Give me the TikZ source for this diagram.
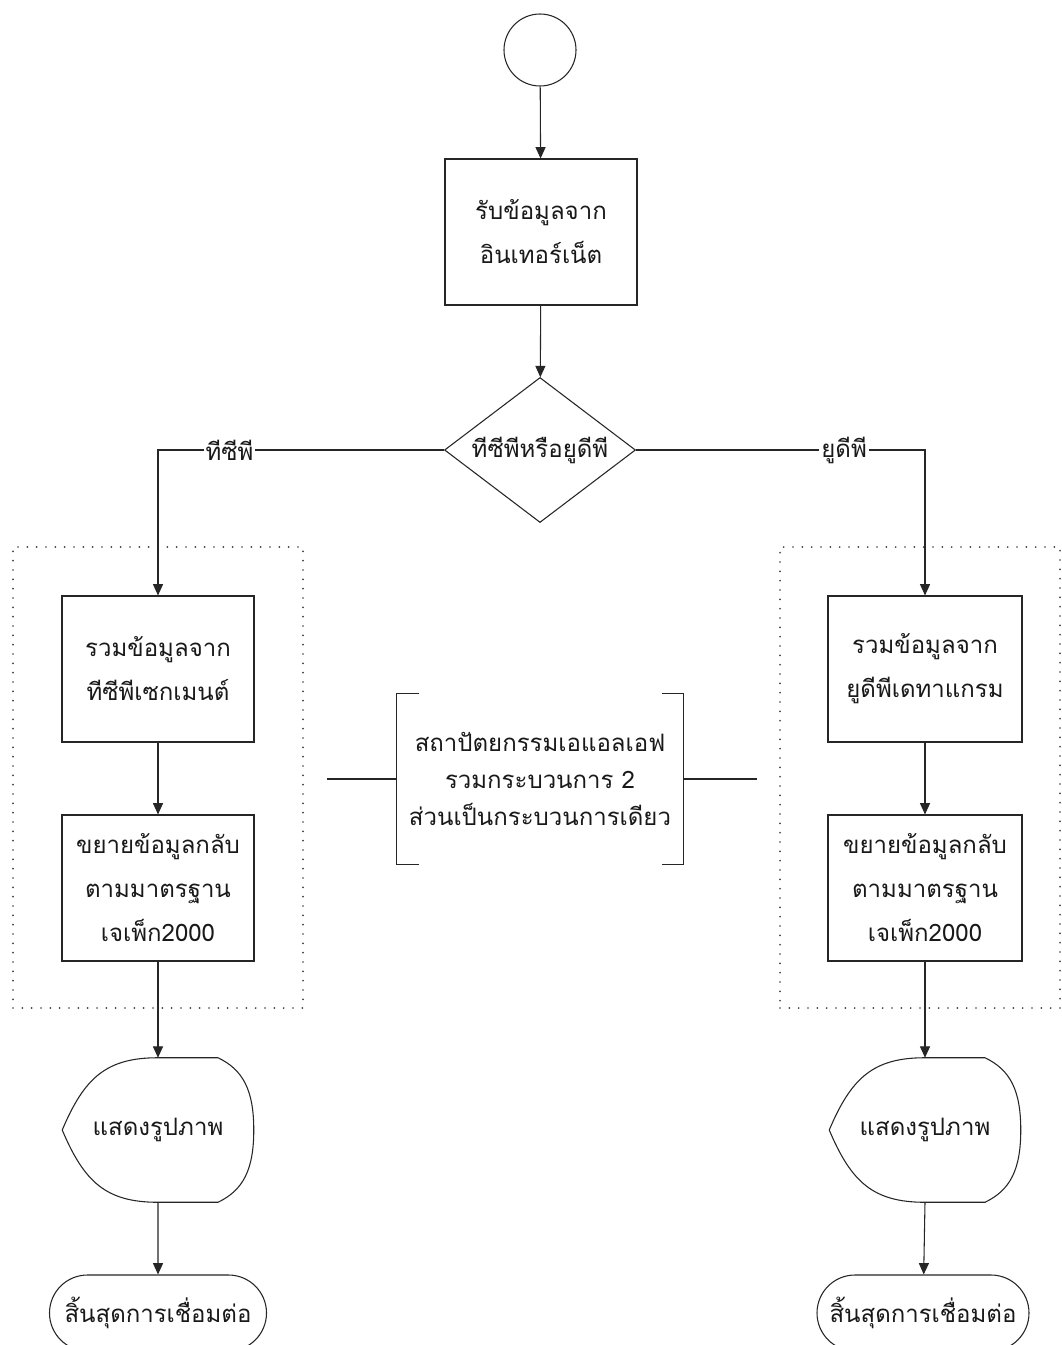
\documentclass[tikz,border=0pt]{standalone}
\usepackage{fontspec}
\newfontfamily\thai[Script=Thai]{Loma}
\usetikzlibrary{shapes.geometric,shapes.misc,arrows.meta}
\tikzset{
  ln/.style={line width=0.8pt, draw=black!85},
  arr/.style={ln, -{Triangle[length=8.5pt,width=7.5pt]}},
  txt/.style={font=\thai\fontsize{18}{33}\selectfont, align=center, text=black!90},
  proc/.style={ln, draw, rectangle, txt, inner sep=0pt, minimum width=144pt, minimum height=109.5pt},
  dec/.style={ln, draw, diamond, aspect=1.32, txt, inner sep=0pt, minimum width=143.25pt, minimum height=108.75pt},
  startc/.style={ln, draw, circle, minimum size=54pt, inner sep=0pt},
  dispbox/.style={rectangle, txt, inner sep=0pt, minimum width=143.25pt, minimum height=108pt},
  term/.style={ln, draw, rounded rectangle, txt, inner sep=0pt, minimum height=57pt},
  grp/.style={draw=black!75, line width=1.4pt, line cap=round, dash pattern=on 0pt off 7pt, rectangle, inner sep=0pt},
  note/.style={rectangle, txt, inner sep=0pt, minimum width=214.5pt, minimum height=127.5pt, font=\thai\fontsize{18}{27.75}\selectfont},
  lab/.style={fill=white, inner sep=1.5pt, txt},
}
\begin{document}
\begin{tikzpicture}[x=0.75pt,y=-0.75pt]
\useasboundingbox (0,0) rectangle (1062,1345);
\fill[white] (0,0) rectangle (1062,1345);

% dotted groups
\node[grp, minimum width=217.5pt, minimum height=345.75pt] (gL) at (158,777.5) {};
\node[grp, minimum width=210pt, minimum height=345.75pt] (gR) at (920,777.5) {};

% nodes
\node[startc] (st) at (540,50) {};
\node[proc] (b1) at (541,232) {รับข้อมูลจาก\\อินเทอร์เน็ต};
\node[dec] (dia) at (540,450) {ทีซีพีหรือยูดีพี};

\node[proc] (b2L) at (158,669) {รวมข้อมูลจาก\\ทีซีพีเซกเมนต์};
\node[proc] (b3L) at (158,888) {ขยายข้อมูลกลับ\\ตามมาตรฐาน\\เจเพ็ก2000};
\node[proc, minimum width=145.5pt] (b2R) at (925,669) {รวมข้อมูลจาก\\ยูดีพีเดทาแกรม};
\node[proc, minimum width=145.5pt] (b3R) at (925,888) {ขยายข้อมูลกลับ\\ตามมาตรฐาน\\เจเพ็ก2000};

\node[dispbox] (disL) at (158,1130) {แสดงรูปภาพ};
\node[dispbox] (disR) at (925,1130) {แสดงรูปภาพ};

\node[term, minimum width=162.75pt] (tL) at (158,1313) {สิ้นสุดการเชื่อมต่อ};
\node[term, minimum width=159pt] (tR) at (923,1313) {สิ้นสุดการเชื่อมต่อ};

\node[note] (nt) at (540,779) {สถาปัตยกรรมเอแอลเอฟ\\รวมกระบวนการ 2\\ส่วนเป็นกระบวนการเดียว};
\coordinate (ntl) at (327,779);
\coordinate (ntr) at (757,779);

% display shapes
\foreach \d in {disL,disR}{
  \draw[ln] (\d.west) .. controls +(22,-52) and +(-52,0) .. (\d.north)
    -- ([xshift=45pt]\d.north) .. controls +(25,12) and +(0,-40) .. (\d.east)
    .. controls +(0,40) and +(25,-12) .. ([xshift=45pt]\d.south)
    -- (\d.south) .. controls +(-52,0) and +(22,52) .. (\d.west);
}

% bracket
\draw[ln] ([xshift=17pt]nt.north west) -- (nt.north west) -- (nt.south west) -- ([xshift=17pt]nt.south west);
\draw[ln] ([xshift=-16pt]nt.north east) -- (nt.north east) -- (nt.south east) -- ([xshift=-16pt]nt.south east);
\draw[ln] (ntl) -- (nt.west);
\draw[ln] (nt.east) -- (ntr);

% connectors
\draw[arr] (st) -- (b1);
\draw[arr] (b1) -- (dia);
\draw[arr] (dia.west) -| node[pos=0.375, lab] {ทีซีพี} (b2L);
\draw[arr] (dia.east) -| node[pos=0.36, lab] {ยูดีพี} (b2R);
\draw[arr] (b2L) -- (b3L);
\draw[arr] (b3L) -- (disL.north);
\draw[arr] (disL.south) -- (tL);
\draw[arr] (b2R) -- (b3R);
\draw[arr] (b3R) -- (disR.north);
\draw[arr] (disR.south) -- (tR);
\end{tikzpicture}
\end{document}
